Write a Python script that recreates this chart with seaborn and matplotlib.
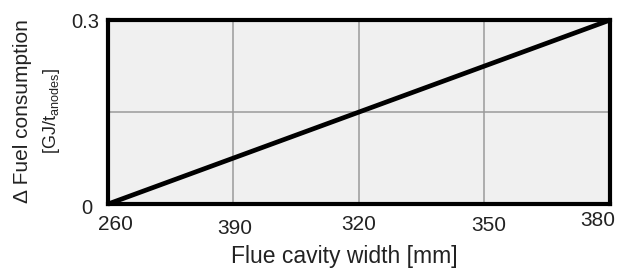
import numpy as np
import pandas as pd
import matplotlib
matplotlib.use("Agg")
from matplotlib import pyplot as plt
from matplotlib.transforms import ScaledTranslation
import seaborn as sns

# data
width_mm = [260, 380]
fuel_delta = [0.0, 0.3]
x_ticks = [260, 290, 320, 350, 380]
x_tick_labels = ["260", "390", "320", "350", "380"]
y_ticks = [0.0, 0.15, 0.3]
y_tick_labels = ["0", "", "0.3"]


def nudge(label, fig, dx, dy):
    # shift a label by some pixels (right / down)
    label.set_transform(label.get_transform() +
                        ScaledTranslation(dx / fig.dpi, -dy / fig.dpi, fig.dpi_scale_trans))


def main():
    sns.set_style("white")
    plt.rcParams['font.family'] = ['Liberation Sans', 'DejaVu Sans']
    plt.rcParams['mathtext.fontset'] = 'custom'
    plt.rcParams['mathtext.rm'] = 'Liberation Sans'

    fig = plt.figure(figsize=(6.35, 2.71), dpi=100)
    ax = fig.add_axes([0.170, 0.247, 0.7906, 0.679])
    ax.set_facecolor('#f0f0f0')

    df = pd.DataFrame({'width': width_mm, 'fuel': fuel_delta})
    sns.lineplot(data=df, x='width', y='fuel', ax=ax, color='black', lw=3.4,
                 solid_capstyle='butt', zorder=5, clip_on=False)

    ax.set_xlim(260, 380)
    ax.set_ylim(0, 0.3)
    ax.set_xticks(x_ticks)
    ax.set_xticklabels(x_tick_labels, fontsize=15, color='#222222')
    ax.set_yticks(y_ticks)
    ax.set_yticklabels(y_tick_labels, fontsize=14.5, color='#222222')
    ax.tick_params(length=0)
    ax.tick_params(axis='x', pad=8)
    ax.tick_params(axis='y', pad=16)
    ax.grid(True, color='#9a9a9a', lw=1.1)

    # the labels in the original sit a little off-line
    offsets = [(7, 0), (1, 4), (0, 0), (4, 1), (-12, -4)]
    for lab, (dx, dy) in zip(ax.get_xticklabels(), offsets):
        nudge(lab, fig, dx, dy)
    for lab in ax.get_yticklabels():
        lab.set_ha('center')
    nudge(ax.get_yticklabels()[0], fig, 1, 2)

    for sp in ax.spines.values():
        sp.set_visible(True)
        sp.set_color('black')
        sp.set_linewidth(3.0)

    ax.set_xlabel('')
    ax.set_ylabel('')
    fig.text(344 / 635, 1 - 257 / 271, 'Flue cavity width [mm]', ha='center', va='center',
             fontsize=16.5, color='#222222')
    fig.text(23 / 635, 1 - 111 / 271, 'Δ Fuel consumption', rotation=90, ha='center',
             va='center', fontsize=15, color='#222222')
    fig.text(51 / 635, 1 - 111 / 271, r'[GJ/t$_{\mathregular{anodes}}$]', rotation=90,
             ha='center', va='center', fontsize=13, color='#222222')

    fig.savefig('out.png', dpi=100)


if __name__ == "__main__":
    main()
